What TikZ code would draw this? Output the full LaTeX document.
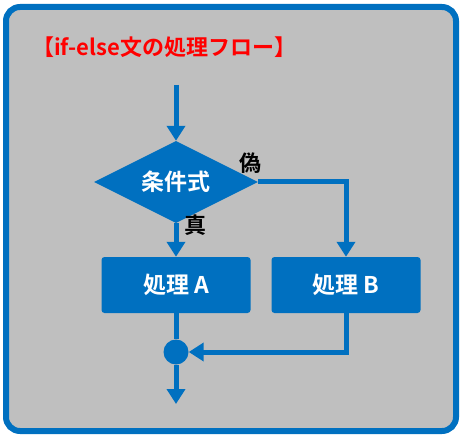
\documentclass[tikz,border=0pt]{standalone}
\usepackage{fontspec}
\setmainfont{Noto Sans CJK JP}[BoldFont={* Bold}]
\usetikzlibrary{shapes.geometric,arrows.meta}
\definecolor{flowblue}{HTML}{0070C0}
\definecolor{flowgray}{HTML}{BFBFBF}
\tikzset{
  proc/.style={draw=none, fill=flowblue, rounded corners=3pt, minimum width=149pt, minimum height=56pt, text=white, font=\bfseries\fontsize{23}{23}\selectfont},
  cond/.style={diamond, fill=flowblue, inner sep=0pt, minimum width=164pt, minimum height=82pt, aspect=2, text=white, font=\bfseries\fontsize{23}{23}\selectfont},
  flow/.style={draw=flowblue, line width=5pt, -{Triangle[length=15pt,width=18pt]}},
  branchlabel/.style={font=\bfseries\fontsize{22}{22}\selectfont}
}
\begin{document}
\begin{tikzpicture}[x=1pt,y=-1pt]
\useasboundingbox (0,0) rectangle (462,438);
\filldraw[fill=flowgray, draw=flowblue, line width=6pt, rounded corners=14pt] (6,7) rectangle (456,431);
\node[anchor=west, text=red, inner sep=0pt, font=\bfseries\fontsize{22}{22}\selectfont] (title) at (32,47) {【if-else文の処理フロー】};

\coordinate (start) at (176,85);
\node[cond] (test) at (176,182) {条件式};
\node[proc] (procA) at (176,285) {処理 A};
\node[proc] (procB) at (346,285) {処理 B};
\node[circle, fill=flowblue, minimum size=25pt, inner sep=0pt] (merge) at (176,352) {};
\coordinate (finish) at (176,404);

\draw[flow] (start) -- (test.north);
\draw[flow] (test.south) -- (procA.north);
\draw[flow] (test.east) -| (procB.north);
\draw[draw=flowblue, line width=5pt] (procA.south) -- (merge.north);
\draw[flow] (procB.south) |- (merge.east);
\draw[flow] (merge.south) -- (finish);

\node[branchlabel] (no) at (250,163) {偽};
\node[branchlabel] (yes) at (195,225) {真};
\end{tikzpicture}
\end{document}
